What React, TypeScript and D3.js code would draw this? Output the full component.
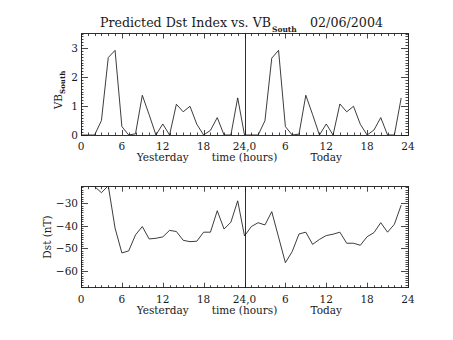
import React from "react";
import * as d3 from "d3";

const vbYesterday = [0, 0, 0, 0.5, 2.67, 2.92, 0.29, 0, 0.04, 1.37, 0.7, 0, 0.38, 0, 1.06, 0.8, 0.99, 0.37, 0, 0.16, 0.6, 0, 0, 1.28];
const vbToday = [0, 0, 0, 0.49, 2.65, 2.92, 0.29, 0, 0.03, 1.37, 0.7, 0, 0.38, 0, 1.07, 0.8, 0.99, 0.37, 0, 0.17, 0.6, 0, 0, 1.28];
const dstYesterday = [-19, -21, -22.6, -25.3, -22.2, -41, -52, -51.1, -44, -40.3, -45.8, -45.5, -44.9, -42, -42.5, -46.4, -47, -46.8, -42.8, -42.8, -33.3, -41.4, -38.4, -28.9];
const dstToday = [-44.5, -40.3, -38.6, -39.6, -33.7, -45, -56.3, -51.4, -43.6, -42.8, -48.2, -46, -44.3, -43.7, -42.8, -47.7, -47.7, -48.6, -44.8, -43, -38.6, -42.8, -39.3, -30.8];
const hourTicks = [0, 6, 12, 18, 24, 30, 36, 42, 48];
const hourTickLabels = ["0", "6", "12", "18", "24,0", "6", "12", "18", "24"];
const vbTicks = [0, 1, 2, 3];
const dstTicks = [-60, -50, -40, -30];
const titleText = "Predicted Dst Index vs. VB";
const titleSub = "South";
const dateText = "02/06/2004";

const FONT = "'DejaVu Serif', 'Liberation Serif', serif";
const INK = "#1a1a1a";

function Panel({ yScale, data, ticks, minorStep, xScale, top, bottom, clipId, fmt }: any) {
  const left = xScale.range()[0];
  const right = xScale.range()[1];
  const line = d3
    .line<number>()
    .x((_, i) => xScale(i))
    .y((d) => yScale(d));
  const [d0, d1] = yScale.domain();
  const minorY = d3.range(Math.ceil(d0 / minorStep - 1e-6) * minorStep, d1 + 1e-9, minorStep).map((v) => +v.toFixed(4));
  const minorX = d3.range(0, 49, 1);
  const maj = 5;
  const mn = 2.5;
  return (
    <g>
      <defs>
        <clipPath id={clipId}>
          <rect x={left} y={top} width={right - left} height={bottom - top} />
        </clipPath>
      </defs>
      <rect x={left} y={top} width={right - left} height={bottom - top} fill="none" stroke={INK} strokeWidth={0.9} shapeRendering="crispEdges" />
      {minorX.map((h) => {
        const isMaj = h % 6 === 0;
        const x = Math.round(xScale(h)) + 0.5;
        const l = isMaj ? maj : mn;
        return (
          <g key={"x" + h}>
            <line x1={x} x2={x} y1={top} y2={top + l} stroke={INK} strokeWidth={0.8} />
            <line x1={x} x2={x} y1={bottom} y2={bottom - l} stroke={INK} strokeWidth={0.8} />
          </g>
        );
      })}
      {minorY.map((v, i) => {
        const isMaj = ticks.some((t: number) => Math.abs(t - v) < 1e-6);
        const y = Math.round(yScale(v)) + 0.5;
        const l = isMaj ? maj + 2 : mn;
        return (
          <g key={"y" + i}>
            <line x1={left} x2={left + l} y1={y} y2={y} stroke={INK} strokeWidth={0.8} />
            <line x1={right} x2={right - l} y1={y} y2={y} stroke={INK} strokeWidth={0.8} />
          </g>
        );
      })}
      <line x1={Math.round(xScale(24)) + 0.5} x2={Math.round(xScale(24)) + 0.5} y1={top} y2={bottom} stroke={INK} strokeWidth={0.9} />
      {ticks.map((t: number) => (
        <text key={"yl" + t} x={left - 3} y={yScale(t) + 4} textAnchor="end" fontFamily={FONT} fontSize={10.5} fill={INK}>
          {fmt(t)}
        </text>
      ))}
      {hourTicks.map((h, i) => (
        <text key={"xl" + h} x={xScale(h)} y={bottom + 15} textAnchor="middle" fontFamily={FONT} fontSize={10.5} fill={INK}>
          {hourTickLabels[i]}
        </text>
      ))}
      <text x={xScale(12)} y={bottom + 26} textAnchor="middle" fontFamily={FONT} fontSize={10.5} fill={INK}>Yesterday</text>
      <text x={xScale(24)} y={bottom + 26} textAnchor="middle" fontFamily={FONT} fontSize={10.5} fill={INK}>time (hours)</text>
      <text x={xScale(36)} y={bottom + 26} textAnchor="middle" fontFamily={FONT} fontSize={10.5} fill={INK}>Today</text>
      <path d={line(data) || ""} fill="none" stroke={INK} strokeWidth={0.85} clipPath={`url(#${clipId})`} />
    </g>
  );
}

export default function App() {
  const W = 453;
  const H = 340;
  const x = d3.scaleLinear().domain([0, 48]).range([81, 408]);
  const topTop = 33.5;
  const topBot = 135;
  const yTop = d3.scaleLinear().domain([0, 3.5]).range([topBot, topTop]);
  const botTop = 186.7;
  const botBot = 287.7;
  const yBot = d3.scaleLinear().domain([-67.4, -22.65]).range([botBot, botTop]);
  const vb = [...vbYesterday, ...vbToday];
  const dst = [...dstYesterday, ...dstToday];
  return (
    <svg width={W} height={H} style={{ position: "absolute", left: 0, top: 0, background: "#fff" }}>
      <rect x={0} y={0} width={W} height={H} fill="#fff" />
      <text x={100} y={27} fontFamily={FONT} fontSize={12.5} fill={INK} textLength={171} lengthAdjust="spacingAndGlyphs">
        {titleText}
      </text>
      <text x={272} y={32} fontFamily={FONT} fontSize={7.5} fill={INK} fontWeight="bold">{titleSub}</text>
      <text x={310} y={27} fontFamily={FONT} fontSize={12.5} fill={INK} textLength={73} lengthAdjust="spacingAndGlyphs">
        {dateText}
      </text>
      <Panel yScale={yTop} data={vb} ticks={vbTicks} minorStep={0.1} xScale={x} top={topTop} bottom={topBot} clipId="clipTop" fmt={(t: number) => String(t)} />
      <Panel yScale={yBot} data={dst} ticks={dstTicks} minorStep={1} xScale={x} top={botTop} bottom={botBot} clipId="clipBot" fmt={(t: number) => "\u2212" + Math.abs(t)} />
      <g transform="translate(62,90) rotate(-90)">
        <text x={0} y={0} textAnchor="middle" fontFamily={FONT} fontSize={10.5} fill={INK}>
          VB<tspan fontSize={7} fontWeight="bold" dy={3}>South</tspan>
        </text>
      </g>
      <text transform="translate(51,237) rotate(-90)" textAnchor="middle" fontFamily={FONT} fontSize={10.5} fill={INK}>Dst (nT)</text>
    </svg>
  );
}
